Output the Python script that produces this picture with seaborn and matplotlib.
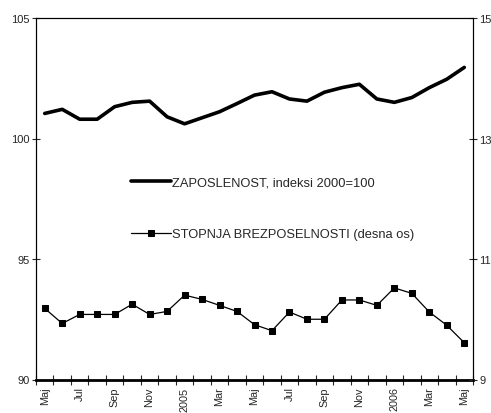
import pandas as pd
import numpy as np
import matplotlib
matplotlib.use("Agg")
import matplotlib.pyplot as plt
import seaborn as sns
from matplotlib.ticker import FixedLocator

# monthly data, Maj 2004 - Maj 2006
months = ["Maj", "Jun", "Jul", "Avg", "Sep", "Okt", "Nov", "Dec",
          "2005", "Feb", "Mar", "Apr", "Maj", "Jun", "Jul", "Avg", "Sep", "Okt", "Nov", "Dec",
          "2006", "Feb", "Mar", "Apr", "Maj"]
zaposlenost = [101.04, 101.21, 100.80, 100.80, 101.32, 101.50, 101.55, 100.90,
               100.61, 100.86, 101.11, 101.45, 101.80, 101.94, 101.64, 101.55, 101.92, 102.11, 102.25, 101.64,
               101.50, 101.70, 102.11, 102.46, 102.95]
brezposelnost = [10.18, 9.93, 10.08, 10.08, 10.08, 10.25, 10.08, 10.13,
                 10.40, 10.33, 10.23, 10.13, 9.91, 9.81, 10.12, 10.00, 10.00, 10.32, 10.32, 10.23,
                 10.52, 10.43, 10.12, 9.90, 9.61]
label_zap = "ZAPOSLENOST, indeksi 2000=100"
label_brez = "STOPNJA BREZPOSELNOSTI (desna os)"

df = pd.DataFrame({"x": np.arange(len(months)), "zap": zaposlenost, "brez": brezposelnost})

sns.set_style("ticks")
plt.rcParams["font.family"] = ["Liberation Sans", "DejaVu Sans"]

fig = plt.figure(figsize=(4.91, 4.14), dpi=100)
ax = fig.add_axes([36 / 491, 1 - 380.5 / 414, (473 - 36) / 491, (380.5 - 19) / 414])
ax2 = ax.twinx()

sns.lineplot(data=df, x="x", y="zap", ax=ax, color="black", linewidth=2.6, label=label_zap, legend=False)
sns.lineplot(data=df, x="x", y="brez", ax=ax2, color="black", linewidth=0.9, marker="s",
             markersize=5, markeredgecolor="black", label=label_brez, legend=False)

ax.set_xlim(-0.5, len(months) - 0.5)
ax.set_ylim(90, 105)
ax2.set_ylim(9, 15)
ax.set_yticks([90, 95, 100, 105])
ax2.set_yticks([9, 11, 13, 15])
ax.set_xlabel("")
ax.set_ylabel("")
ax2.set_ylabel("")

lab_pos = list(range(0, len(months), 2))
ax.set_xticks(lab_pos)
ax.set_xticklabels([months[i] for i in lab_pos], rotation=90, fontsize=7.8)
ax.xaxis.set_minor_locator(FixedLocator(np.arange(-0.5, len(months), 1)))
ax.tick_params(axis="x", which="major", length=0, pad=5)
ax.tick_params(axis="x", which="minor", direction="inout", length=7, width=0.8)
ax.tick_params(axis="y", direction="inout", length=6, width=0.8, labelsize=8, pad=1.5)
ax2.tick_params(axis="y", direction="inout", length=6, width=0.8, labelsize=8, pad=1.5)

for a in (ax, ax2):
    for s in a.spines.values():
        s.set_linewidth(0.8)
        s.set_color("black")
ax.spines["bottom"].set_linewidth(2)
ax2.spines["bottom"].set_visible(False)

h1, l1 = ax.get_legend_handles_labels()
h2, l2 = ax2.get_legend_handles_labels()
fig.legend(h1 + h2, l1 + l2, loc="upper left", bbox_to_anchor=(131 / 491, 1 - 177 / 414),
           frameon=False, fontsize=9.3, handlelength=3.1, handletextpad=0.1, labelspacing=3.1,
           borderpad=0, borderaxespad=0, numpoints=1)

fig.savefig("out.png", dpi=100)
